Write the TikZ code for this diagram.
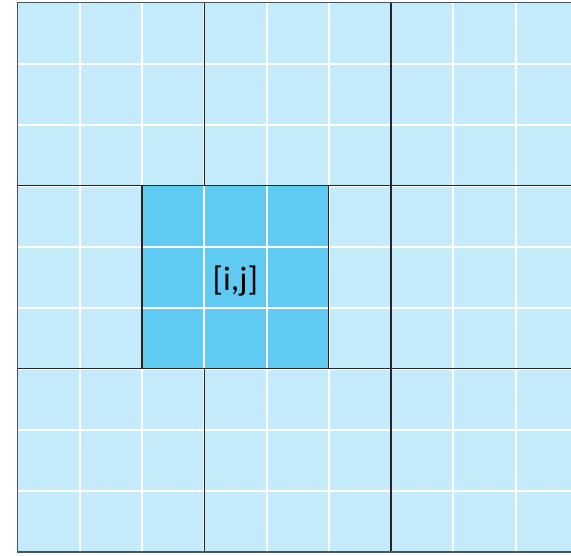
\documentclass[tikz,border=0pt]{standalone}
\usepackage{fontspec}
\setmainfont{Carlito}
\definecolor{lightcell}{HTML}{C3EBFA}
\definecolor{darkcell}{HTML}{5FCBF2}
\definecolor{edgegrey}{HTML}{46575B}
\begin{document}
\begin{tikzpicture}[x=1pt,y=-1pt,
  gridline/.style={white,line width=2pt},
  blockline/.style={black!85,line width=1.2pt},
  outline/.style={edgegrey,line width=1.8pt}]
\useasboundingbox (0,0) rectangle (571,555);
\def\cx{62.25}
\def\ry{61.05}
\def\xo{17.5}
\def\yo{2.5}
% background cells
\fill[lightcell] (\xo,\yo) rectangle (580,552);
% white grid
\foreach \i in {1,...,8} {
  \draw[gridline] ({\xo+\i*\cx},\yo) -- ({\xo+\i*\cx},552);
  \draw[gridline] (\xo,{\yo+\i*\ry}) -- (580,{\yo+\i*\ry});
}
% block lines
\foreach \i in {3,6} {
  \draw[blockline] ({\xo+\i*\cx},\yo) -- ({\xo+\i*\cx},552);
  \draw[blockline] (\xo,{\yo+\i*\ry}) -- (580,{\yo+\i*\ry});
}
% highlighted block
\coordinate (hA) at ({\xo+2*\cx},{\yo+3*\ry});
\coordinate (hB) at ({\xo+5*\cx},{\yo+6*\ry});
\fill[darkcell] (hA) rectangle (hB);
\foreach \i in {3,4} {
  \draw[gridline] ({\xo+\i*\cx},{\yo+3*\ry}) -- ({\xo+\i*\cx},{\yo+6*\ry});
}
\foreach \i in {4,5} {
  \draw[gridline] ({\xo+2*\cx},{\yo+\i*\ry}) -- ({\xo+5*\cx},{\yo+\i*\ry});
}
\draw[blockline] (hA) rectangle (hB);
\node[font=\fontsize{34}{40}\selectfont, text=black, inner sep=0pt] (lbl) at ({\xo+3.5*\cx},{\yo+4.5*\ry+4}) {[i,j]};
% outer border
\draw[outline] (580,\yo) -- (\xo,\yo) -- (\xo,552) -- (580,552);
\end{tikzpicture}
\end{document}
